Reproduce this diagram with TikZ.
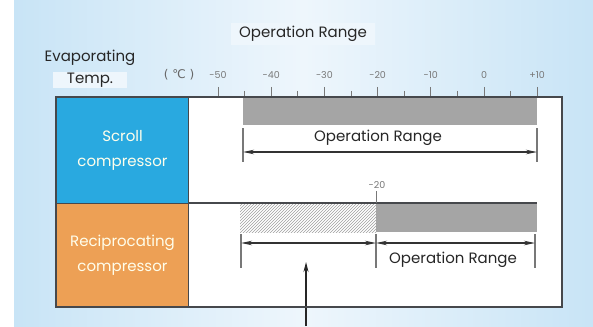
\documentclass[tikz,border=0pt]{standalone}
\usepackage{fontspec}
\setmainfont{Poppins}
\newfontfamily\symfont{DejaVu Sans}
\usetikzlibrary{arrows.meta,positioning,calc,patterns}
\definecolor{scrollblue}{RGB}{41,169,224}
\definecolor{reciporange}{RGB}{237,160,85}
\definecolor{rangegray}{RGB}{165,165,165}
\definecolor{framegray}{RGB}{70,72,76}
\definecolor{bgblue}{RGB}{200,228,246}
\definecolor{bgpale}{RGB}{238,246,252}
\definecolor{scalegray}{RGB}{120,120,120}

\begin{document}
\begin{tikzpicture}[x=1pt,y=-1pt,
    txt/.style={font=\fontsize{15}{22}\selectfont, text=black!85},
    celltxt/.style={font=\fontsize{15}{25}\selectfont, text=white!92!yellow, align=center},
    scalelbl/.style={font=\fontsize{9.5}{10}\selectfont, text=scalegray},
    dimline/.style={draw=scalegray, line width=1.3pt},
    span/.style={{Stealth[length=11pt,width=4.5pt]}-{Stealth[length=11pt,width=4.5pt]}, line width=1.5pt, draw=black!80}]

    \useasboundingbox (0,0) rectangle (593,326);
    \shade[left color=bgblue, right color=bgblue, middle color=bgpale] (14,0) rectangle (593,326);

    % headings
    \node[txt, fill=bgpale, inner xsep=8pt] (title) at (303,34) {Operation Range};
    \node[txt] (evap) at (90,58) {Evaporating};
    \node[txt, fill=bgpale, inner xsep=14pt, inner ysep=1pt] (temp) at (90,80) {Temp.};

    % table cells
    \fill[white] (188,97) rectangle (562,307);
    \node[draw=framegray, line width=1pt, fill=scrollblue, minimum width=132pt, minimum height=106pt,
        anchor=north west, celltxt] (scroll) at (56,97) {Scroll\\compressor};
    \node[draw=framegray, line width=1pt, fill=reciporange, minimum width=132pt, minimum height=104pt,
        anchor=north west, celltxt] (recip) at (56,203) {Reciprocating\\compressor};

    % scale
    \node[font=\symfont\fontsize{12}{13}\selectfont, text=black!60] (unit) at (179,75) {( ℃ )};
    \foreach \i in {0,...,12} {
        \pgfmathsetmacro{\tx}{218+\i*26.6}
        \ifodd\i
            \draw[draw=scalegray, line width=0.8pt] (\tx,91) -- (\tx,97);
        \else
            \draw[draw=scalegray, line width=0.8pt] (\tx,87) -- (\tx,97);
        \fi
    }
    \foreach \v [count=\k from 0] in {-50,-40,-30,-20,-10,0,+10}
        \node[scalelbl] (t\k) at (218+\k*53.2,75) {\v};

    % scroll compressor range
    \fill[rangegray] (243,98) rectangle (537,125);
    \coordinate (sa) at (243,152);
    \coordinate (sb) at (537,152);
    \draw[dimline] (243,128) -- (243,162);
    \draw[dimline] (537,128) -- (537,162);
    \draw[span] (sa) -- (sb);
    \node[txt] (srange) at (378,138) {Operation Range};

    % reciprocating compressor range
    \fill[pattern=north east lines, pattern color=gray!75] (240,203) rectangle (376,232);
    \fill[rangegray] (376,203) rectangle (537,232);
    \draw[draw=framegray, line width=1.2pt] (188,203) -- (537,203);
    \draw[draw=scalegray, line width=0.8pt] (376,191) -- (376,203);
    \node[scalelbl] (m20) at (377,185) {-20};
    \coordinate (ra) at (241,243);
    \coordinate (rm) at (376,243);
    \coordinate (rb) at (535,243);
    \draw[dimline] (241,234) -- (241,268);
    \draw[dimline] (376,234) -- (376,268);
    \draw[dimline] (535,234) -- (535,268);
    \draw[span] (ra) -- (rm);
    \draw[span] (rm) -- (rb);
    \node[txt] (rrange) at (453,260) {Operation Range};
    \node[fill=white, minimum width=125pt, minimum height=48pt] (blank) at (307.5,274) {};
    \coordinate (foot) at (306,326);
    \draw[-{Stealth[length=10pt,width=5pt]}, line width=1.2pt, draw=black!85] (foot) -- (306,262);

    % frame
    \draw[draw=framegray, line width=2pt] (56,97) rectangle (562,307);
    \draw[draw=framegray, line width=1pt] (188,97) -- (188,307);
\end{tikzpicture}
\end{document}
